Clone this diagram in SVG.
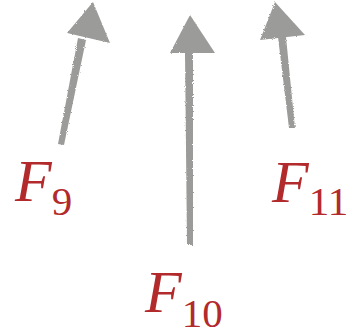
<svg xmlns="http://www.w3.org/2000/svg" width="349" height="335" viewBox="0 0 349 335">
<defs>
<filter id="rough" x="-20%" y="-20%" width="140%" height="140%">
<feTurbulence type="fractalNoise" baseFrequency="0.9" numOctaves="2" seed="3" result="n"/>
<feDisplacementMap in="SourceGraphic" in2="n" scale="2.5"/>
</filter>
</defs>
<style>
.arrow{fill:#9b9b99;filter:url(#rough)}
.lbl{font-family:"Liberation Serif",serif;fill:#b32a2c}
.main{font-style:italic;font-size:60px}
.sub{font-size:41px}
</style>
<g id="connectors">
<g id="arrow9"><polygon class="arrow" points="93,2 67,33 110,43"/><polygon class="arrow" points="78,38 86,40 64,145 58,144"/></g>
<g id="arrow10"><polygon class="arrow" points="190,15 170,53 215,53"/><polygon class="arrow" points="185,52 193,52 193,245 187,245"/></g>
<g id="arrow11"><polygon class="arrow" points="275,2 260,40 305,35"/><polygon class="arrow" points="278,37 286,37 295,128 289,128"/></g>
</g>
<g id="F9"><text class="lbl" x="15" y="201"><tspan class="main">F</tspan><tspan class="sub" dy="14">9</tspan></text></g>
<g id="F10"><text class="lbl" x="145" y="312"><tspan class="main">F</tspan><tspan class="sub" dy="15">10</tspan></text></g>
<g id="F11"><text class="lbl" x="272" y="202"><tspan class="main">F</tspan><tspan class="sub" dy="13">11</tspan></text></g>
</svg>
